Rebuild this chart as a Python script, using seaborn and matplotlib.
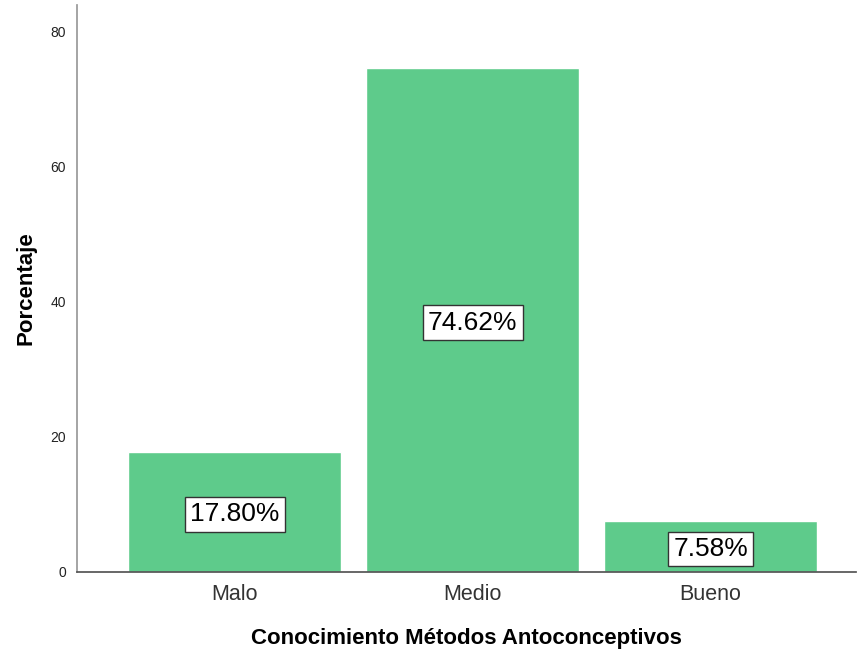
import seaborn as sns
import matplotlib.pyplot as plt
import pandas as pd

categorias = ["Malo", "Medio", "Bueno"]
porcentajes = [17.80, 74.62, 7.58]
etiquetas = ["17.80%", "74.62%", "7.58%"]

sns.set_theme(style="white")
plt.rcParams["font.family"] = ["Liberation Sans", "DejaVu Sans"]

df = pd.DataFrame({"categoria": categorias, "porcentaje": porcentajes})

fig = plt.figure(figsize=(8.58, 6.54), dpi=100)
ax = fig.add_axes([0.0897, 0.1254, 0.908, 0.867])
sns.barplot(data=df, x="categoria", y="porcentaje", color="#5ECB8B",
            saturation=1, width=0.895, ax=ax)

for i, (v, t) in enumerate(zip(porcentajes, etiquetas)):
    ax.text(i, v / 2, t, ha="center", va="center_baseline", fontsize=19,
            color="black",
            bbox=dict(boxstyle="square,pad=0.2", facecolor="white",
                      edgecolor="#333333", linewidth=1))

ax.set_xlim(-0.662, 2.611)
ax.set_ylim(0, 84)
ax.set_yticks([0, 20, 40, 60, 80])
ax.tick_params(axis="y", labelsize=10, length=0, pad=8, colors="#222222")
ax.tick_params(axis="x", labelsize=15.5, length=0, pad=9, colors="#333333")
for s in ["top", "right"]:
    ax.spines[s].set_visible(False)
ax.spines["left"].set_color("#999999")
ax.spines["bottom"].set_color("#555555")
ax.set_xlabel("Conocimiento Métodos Antoconceptivos", fontsize=16,
              fontweight="bold", labelpad=16, color="black")
ax.set_ylabel("Porcentaje", fontsize=16, fontweight="bold", labelpad=10,
              color="black")

fig.savefig("out.png", dpi=100)
